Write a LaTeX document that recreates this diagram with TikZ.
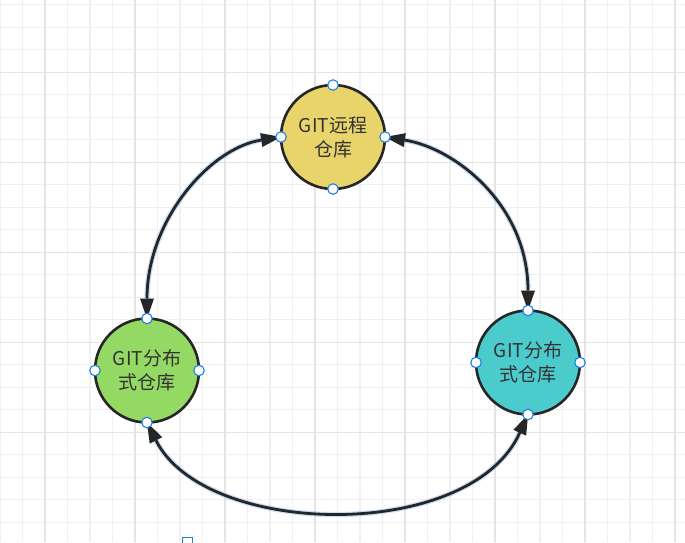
\documentclass[tikz,border=0pt]{standalone}
\usepackage{fontspec}
\newfontfamily\cjk{Noto Sans CJK SC}
\usetikzlibrary{arrows.meta}
\definecolor{gridminor}{HTML}{F0F0F0}
\definecolor{gridmajor}{HTML}{E4E4E4}
\definecolor{ncyellow}{HTML}{E9D46C}
\definecolor{ncgreen}{HTML}{95D965}
\definecolor{ncteal}{HTML}{4CCBCD}
\definecolor{ncborder}{HTML}{262626}
\definecolor{nctext}{HTML}{333333}
\definecolor{ptblue}{HTML}{1A7FE8}
\definecolor{glowblue}{HTML}{8FBDF2}
\tikzset{
  repo/.style={circle, draw=ncborder, line width=2.6pt, minimum size=104pt, inner sep=0pt, outer sep=0pt,
    align=center, text=nctext, font=\cjk\fontsize{19}{24}\selectfont},
  cpt/.style={circle, draw=ptblue, fill=white, line width=1.1pt, minimum size=10.5pt, inner sep=0pt},
  link/.style={draw=ncborder, line width=2.8pt,
    {Triangle[length=20pt,width=14pt,line width=0pt]}-{Triangle[length=20pt,width=14pt,line width=0pt]},
    preaction={draw=glowblue, line width=5.2pt, opacity=0.5}},
}
\begin{document}
\begin{tikzpicture}[x=1pt,y=-1pt]
\useasboundingbox (0,0) rectangle (685,542);
\clip (0,0) rectangle (685,542);
\fill[white] (0,0) rectangle (685,542);
% grid
\foreach \i in {0,...,30} {
  \draw[gridminor, line width=1.2pt] ({22.5*\i},0) -- ({22.5*\i},542);
}
\foreach \i in {0,...,24} {
  \draw[gridminor, line width=1.2pt] (0,{4.8+22.5*\i}) -- (685,{4.8+22.5*\i});
}
\foreach \i in {0,...,7} {
  \draw[gridmajor, line width=1.2pt] ({45+90*\i},0) -- ({45+90*\i},542);
}
\foreach \i in {0,...,5} {
  \draw[gridmajor, line width=1.2pt] (0,{-17.7+90*\i}) -- (685,{-17.7+90*\i});
}
% repositories
\node[repo, fill=ncyellow] (remote) at (333,137) {GIT远程\\仓库};
\node[repo, fill=ncgreen] (left) at (147,370.5) {GIT分布\\式仓库};
\node[repo, fill=ncteal] (right) at (528,362.5) {GIT分布\\式仓库};
% links
\draw[link] (remote.west) .. controls (210,148) and (147,220) .. (left.north);
\draw[link] (remote.east) .. controls (455,148) and (528,205) .. (right.north);
\draw[link] (left.south) .. controls (205,538) and (470,543) .. (right.south);
% connection points
\foreach \n in {remote,left,right} {
  \foreach \a in {north,south,east,west} {
    \node[cpt] (\n-\a) at (\n.\a) {};
  }
}
% small selection square
\node[draw=ptblue, line width=1pt, minimum size=10pt, inner sep=0pt, anchor=north west] (sel) at (182,537) {};
\end{tikzpicture}
\end{document}
